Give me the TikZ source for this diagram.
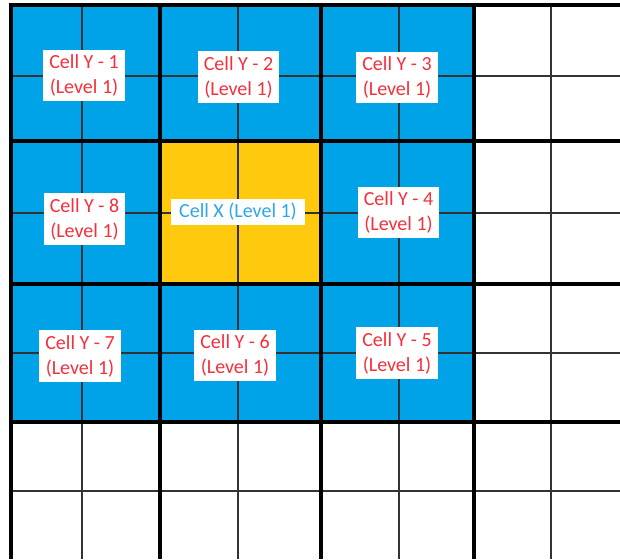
\documentclass[tikz,border=0pt]{standalone}
\usepackage{fontspec}
\setmainfont{Carlito}
\definecolor{cellblue}{HTML}{00A2E8}
\definecolor{cellgold}{HTML}{FFC90E}
\definecolor{labred}{HTML}{F5303C}
\definecolor{labblue}{HTML}{2EA6EC}
\tikzset{
  thickline/.style={line width=3.6pt, black},
  thinline/.style={line width=1.3pt, black!80},
  lab/.style={fill=white, draw=none, text=labred, align=center, inner xsep=6pt, inner ysep=5pt,
    font=\fontsize{20}{25}\selectfont},
  labx/.style={lab, text=labblue, inner xsep=8pt, inner ysep=4pt},
}
\begin{document}
\begin{tikzpicture}[x=1pt, y=-1pt]
\useasboundingbox (0,0) rectangle (620,559);
\fill[white] (0,0) rectangle (620,559);
% fills
\fill[cellblue] (11,5) rectangle (474,422);
\fill[cellgold] (160,141) rectangle (321,284);
% thin lines
\foreach \x in {82,238,399,551} \draw[thinline] (\x,5) -- (\x,559);
\foreach \y in {76,213,353,491} \draw[thinline] (11,\y) -- (620,\y);
% thick lines
\foreach \x in {11,160,321,474} \draw[thickline] (\x,3.2) -- (\x,559);
\foreach \y in {5,141,284,422} \draw[thickline] (9.2,\y) -- (620,\y);
% labels
\node[lab] (y1) at (84,75.5) {Cell Y - 1\\(Level 1)};
\node[lab] (y2) at (238.5,77) {Cell Y - 2\\(Level 1)};
\node[lab] (y3) at (397,77.5) {Cell Y - 3\\(Level 1)};
\node[lab] (y8) at (84.5,219) {Cell Y - 8\\(Level 1)};
\node[labx] (x) at (238,212) {Cell X (Level 1)};
\node[lab] (y4) at (398.5,212.5) {Cell Y - 4\\(Level 1)};
\node[lab] (y7) at (80,356) {Cell Y - 7\\(Level 1)};
\node[lab] (y6) at (235,355.5) {Cell Y - 6\\(Level 1)};
\node[lab] (y5) at (397,353) {Cell Y - 5\\(Level 1)};
\end{tikzpicture}
\end{document}
